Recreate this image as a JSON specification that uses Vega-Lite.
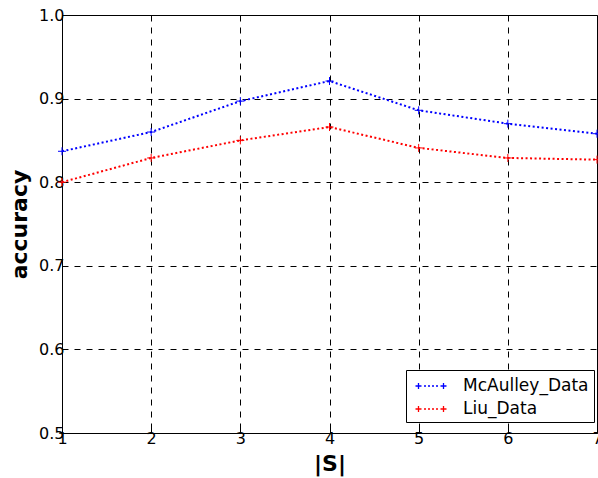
{
  "$schema": "https://vega.github.io/schema/vega-lite/v6.json",
  "width": 535,
  "height": 418,
  "autosize": {"type": "none"},
  "padding": {"left": 62, "top": 15, "right": 1, "bottom": 45},
  "background": "white",
  "config": {
    "font": "DejaVu Sans",
    "view": {"stroke": "black", "strokeWidth": 1}
  },
  "data": {
    "values": [
      {"S": 1, "accuracy": 0.837, "series": "McAulley_Data"},
      {"S": 2, "accuracy": 0.860, "series": "McAulley_Data"},
      {"S": 3, "accuracy": 0.897, "series": "McAulley_Data"},
      {"S": 4, "accuracy": 0.921, "series": "McAulley_Data"},
      {"S": 5, "accuracy": 0.886, "series": "McAulley_Data"},
      {"S": 6, "accuracy": 0.870, "series": "McAulley_Data"},
      {"S": 7, "accuracy": 0.858, "series": "McAulley_Data"},
      {"S": 1, "accuracy": 0.800, "series": "Liu_Data"},
      {"S": 2, "accuracy": 0.829, "series": "Liu_Data"},
      {"S": 3, "accuracy": 0.850, "series": "Liu_Data"},
      {"S": 4, "accuracy": 0.866, "series": "Liu_Data"},
      {"S": 5, "accuracy": 0.841, "series": "Liu_Data"},
      {"S": 6, "accuracy": 0.829, "series": "Liu_Data"},
      {"S": 7, "accuracy": 0.827, "series": "Liu_Data"}
    ]
  },
  "encoding": {
    "x": {
      "field": "S",
      "type": "quantitative",
      "scale": {"domain": [1, 7], "nice": false, "zero": false},
      "axis": {
        "title": "|S|",
        "titleFont": "DejaVu Sans",
        "titleFontSize": 22,
        "titleFontWeight": "bold",
        "titleColor": "black",
        "titlePadding": 7,
        "values": [1, 2, 3, 4, 5, 6, 7],
        "format": "d",
        "labelFont": "DejaVu Sans",
        "labelFontSize": 16,
        "labelColor": "black",
        "labelPadding": 2,
        "labelFlush": false,
        "labelOverlap": false,
        "tickSize": -5,
        "tickColor": "black",
        "domain": false,
        "grid": true,
        "gridColor": "black",
        "gridDash": [6, 6],
        "gridOpacity": 1,
        "gridWidth": 1
      }
    },
    "y": {
      "field": "accuracy",
      "type": "quantitative",
      "scale": {"domain": [0.5, 1.0], "nice": false, "zero": false},
      "axis": {
        "title": "accuracy",
        "titleFont": "DejaVu Sans",
        "titleFontSize": 22,
        "titleFontWeight": "bold",
        "titleColor": "black",
        "titlePadding": 7,
        "values": [0.5, 0.6, 0.7, 0.8, 0.9, 1.0],
        "format": ".1f",
        "labelFont": "DejaVu Sans",
        "labelFontSize": 16,
        "labelColor": "black",
        "labelPadding": 3,
        "labelFlush": false,
        "labelOverlap": false,
        "tickSize": -5,
        "tickColor": "black",
        "domain": false,
        "grid": true,
        "gridColor": "black",
        "gridDash": [6, 6],
        "gridOpacity": 1,
        "gridWidth": 1
      }
    },
    "color": {
      "field": "series",
      "type": "nominal",
      "sort": ["McAulley_Data", "Liu_Data"],
      "scale": {"domain": ["McAulley_Data", "Liu_Data"], "range": ["blue", "red"]},
      "legend": {
        "title": null,
        "orient": "none",
        "legendX": 344,
        "legendY": 355,
        "direction": "vertical",
        "fillColor": "white",
        "strokeColor": "black",
        "padding": 5,
        "symbolType": "M-1.55,0L-0.95,0M-1.25,-0.3L-1.25,0.3M0.95,0L1.55,0M1.25,-0.3L1.25,0.3M-0.7,0L-0.5,0M-0.3,0L-0.1,0M0.1,0L0.3,0M0.5,0L0.7,0",
        "symbolSize": 400,
        "symbolStrokeWidth": 1.3,
        "symbolFillColor": "transparent",
        "symbolOffset": 9,
        "labelFont": "DejaVu Sans",
        "labelFontSize": 17,
        "labelColor": "black",
        "labelOffset": 21,
        "rowPadding": 4
      }
    }
  },
  "layer": [
    {
      "mark": {"type": "line", "strokeDash": [2, 2.5], "strokeWidth": 2}
    },
    {
      "mark": {
        "type": "point",
        "shape": "M-1,0L1,0M0,-1L0,1",
        "size": 64,
        "filled": false,
        "strokeWidth": 1,
        "opacity": 1
      }
    }
  ]
}
